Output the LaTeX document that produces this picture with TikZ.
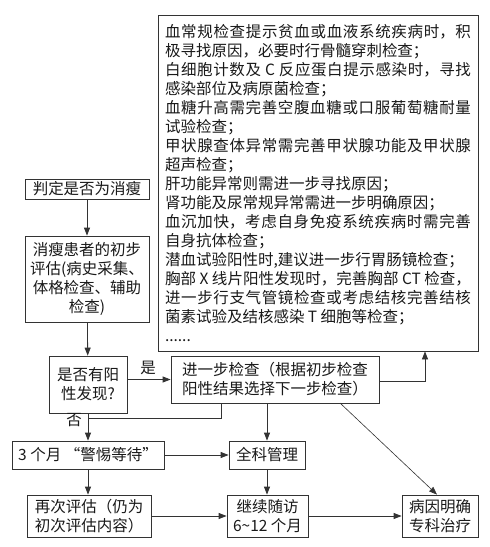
\documentclass[tikz,border=0pt]{standalone}
\usepackage{fontspec}
\setmainfont{Noto Sans CJK SC}
\usetikzlibrary{arrows.meta}
\XeTeXlinebreaklocale "zh"
\XeTeXlinebreakskip=0pt plus 2pt
\begin{document}
\begin{tikzpicture}[x=1pt,y=-1pt,
  box/.style={draw=black!80,line width=0.8pt,inner sep=0pt,
    font=\fontsize{15.5}{19}\selectfont,text=black!90,align=center},
  arr/.style={draw=black!80,line width=0.8pt,-{Triangle[length=8pt,width=6pt]}},
  ln/.style={draw=black!80,line width=0.8pt},
  lbl/.style={font=\fontsize{15.5}{19}\selectfont,text=black!90,inner sep=0pt}]
\useasboundingbox[fill=white] (0,0) rectangle (490,547);

\node[box, minimum width=320pt, minimum height=336pt, text width=306pt, align=justify] (big) at (318,183) {%
\parindent=0pt
血常规检查提示贫血或血液系统疾病时，积\linebreak 极寻找原因，必要时行骨髓穿刺检查；\par
白细胞计数及 C 反应蛋白提示感染时，寻找\linebreak 感染部位及病原菌检查；\par
血糖升高需完善空腹血糖或口服葡萄糖耐量\linebreak 试验检查；\par
甲状腺查体异常需完善甲状腺功能及甲状腺\linebreak 超声检查；\par
肝功能异常则需进一步寻找原因；\par
肾功能及尿常规异常需进一步明确原因；\par
血沉加快，考虑自身免疫系统疾病时需完善\linebreak 自身抗体检查；\par
潜血试验阳性时,建议进一步行胃肠镜检查；\par
胸部 X 线片阳性发现时，完善胸部 CT 检查，\linebreak 进一步行支气管镜检查或考虑结核完善结核\linebreak 菌素试验及结核感染 T 细胞等检查；\par
......};

\node[box, minimum width=124pt, minimum height=20pt] (judge) at (87,189) {判定是否为消瘦};
\node[box, minimum width=124pt, minimum height=86pt] (init) at (87,279) {消瘦患者的初步\\评估(病史采集、\\体格检查、辅助\\检查)};
\node[box, minimum width=78pt, minimum height=57pt] (pos) at (88,384.5) {是否有阳\\性发现?};
\node[box, minimum width=208pt, minimum height=47pt, align=left] (further) at (275,379.5) {进一步检查（根据初步检查\\阳性结果选择下一步检查）};
\node[box, minimum width=152pt, minimum height=28pt] (wait) at (88,455) {3 个月 “警惕等待”};
\node[box, minimum width=76pt, minimum height=28pt] (gp) at (267,455) {全科管理};
\node[box, minimum width=124pt, minimum height=42pt] (reeval) at (89,516) {再次评估（仍为\\初次评估内容）};
\node[box, minimum width=81pt, minimum height=42pt] (follow) at (267.5,516) {继续随访\\6\textasciitilde12 个月};
\node[box, minimum width=76pt, minimum height=42pt] (cause) at (440,516) {病因明确\\专科治疗};

\node[lbl] (yes) at (148,368) {是};
\node[lbl] (no) at (74,420) {否};

\coordinate (upx) at (425,381);
\coordinate (nojoin) at (221,418);

\draw[arr] (judge) -- (init);
\draw[arr] (init) -- (pos);
\draw[arr] (pos.east |- further.west) -- (further.west);
\draw[arr] (further.east |- upx) -- (upx) -- (upx |- big.south);
\draw[ln] (further.south -| nojoin) -- (nojoin) -- (nojoin -| pos.south);
\draw[arr] (pos.south) -- (wait.north -| pos.south);
\draw[arr] (further.south -| gp.north) -- (gp.north);
\draw[draw=black!80,line width=0.6pt,-{Triangle[length=8pt,width=6pt]}] (340,403) -- (cause.north -| 437,0);
\draw[arr] (wait.east) -- (gp.west);
\draw[arr] (wait.south) -- (reeval.north -| wait.south);
\draw[arr] (gp.south) -- (follow.north -| gp.south);
\draw[arr] (reeval.east) -- (follow.west);
\draw[arr] (follow.east) -- (cause.west);
\end{tikzpicture}
\end{document}
